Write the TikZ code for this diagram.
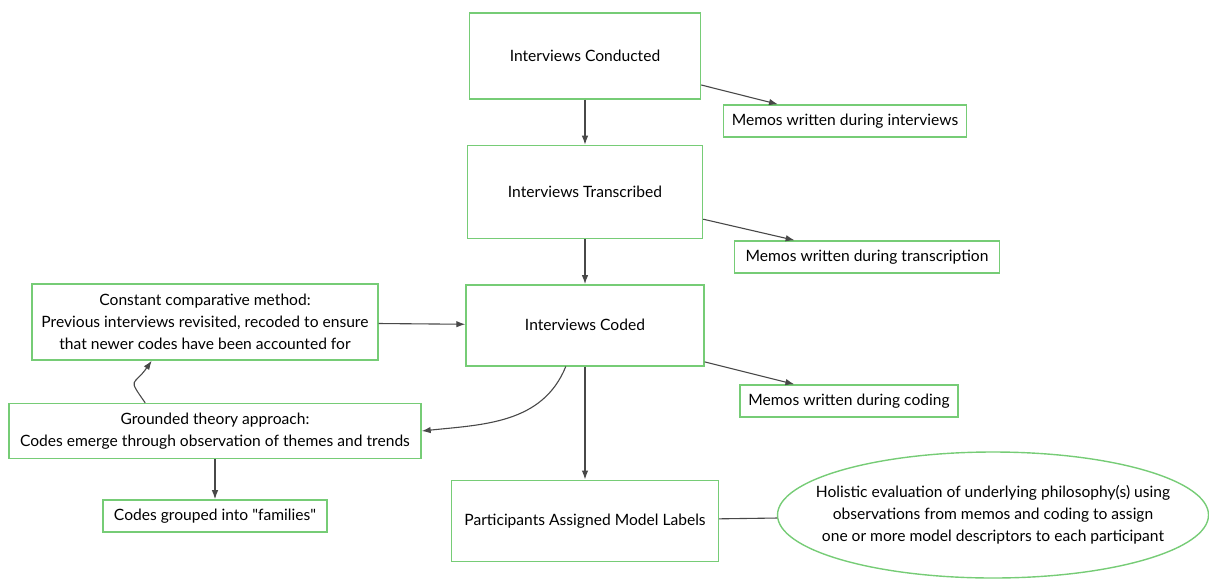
\documentclass[tikz,border=0pt]{standalone}
\usepackage{fontspec}
\setmainfont{Lato}[Ligatures=TeXOff]
\usetikzlibrary{shapes.geometric,arrows.meta,positioning}
\definecolor{boxgreen}{RGB}{118,204,118}
\definecolor{linegray}{RGB}{72,72,72}

\begin{document}
\begin{tikzpicture}[
  x=1pt, y=-1pt,
  >={Latex[length=9pt,width=6.5pt]},
  every node/.style={font=\fontsize{15.6}{22}\selectfont, align=center, inner sep=0pt},
  stagebox/.style={draw=boxgreen, line width=1.4pt},
  memobox/.style={draw=boxgreen, line width=1.4pt, minimum height=32pt},
  link/.style={draw=linegray, line width=1.1pt}
]
  \useasboundingbox (0,0) rectangle (1209,579);

  % Main column
  \node (conducted) [stagebox, minimum width=231pt, minimum height=86pt] at (585,56) {Interviews Conducted};
  \node (transcribed) [stagebox, minimum width=235pt, minimum height=93pt, below=45pt of conducted] {Interviews Transcribed};
  \node (coded) [stagebox, minimum width=238pt, minimum height=81pt, below=45pt of transcribed] {Interviews Coded};
  \node (labels) [stagebox, minimum width=267pt, minimum height=81pt, below=113pt of coded] {Participants Assigned Model Labels};

  % Memos
  \node (memint) [memobox, minimum width=243pt] at (845,121) {Memos written during interviews};
  \node (memtrans) [memobox, minimum width=265pt] at (867,257) {Memos written during transcription};
  \node (memcode) [memobox, minimum width=218pt] at (849,401) {Memos written during coding};

  % Left side
  \node (compare) [stagebox, minimum width=346pt, minimum height=76pt] at (205,322)
    {Constant comparative method:\\Previous interviews revisited, recoded to ensure\\that newer codes have been accounted for};
  \node (grounded) [stagebox, minimum width=412pt, minimum height=55pt] at (215,431)
    {Grounded theory approach:\\Codes emerge through observation of themes and trends};
  \node (families) [memobox, minimum width=224pt, below=40pt of grounded] {Codes grouped into "families"};

  % Holistic evaluation
  \node (holistic) [ellipse, draw=boxgreen, line width=1.4pt, inner xsep=-25pt,
    minimum width=431pt, minimum height=126pt] at (993,515)
    {Holistic evaluation of underlying philosophy(s) using\\observations from memos and coding to assign\\one or more model descriptors to each participant};

  % Arrows
  \draw[link,->] (conducted) -- (transcribed);
  \draw[link,->] (transcribed) -- (coded);
  \draw[link,->] (coded) -- (labels);
  \draw[link,->] (conducted.-14) -- (memint.166);
  \draw[link,->] (transcribed.-13.5) -- (memtrans.167);
  \draw[link,->] (coded.-17) -- (memcode.163);
  \draw[link,->] (compare) -- (coded);
  \draw[link,->] (coded.245) to[out=-112,in=6] (grounded.east);
  \draw[link,->] (grounded.158) to[out=125,in=-125,looseness=1.9] (compare.216);
  \draw[link,->] (grounded) -- (families);
  \draw[link] (labels) -- (holistic);
\end{tikzpicture}
\end{document}
